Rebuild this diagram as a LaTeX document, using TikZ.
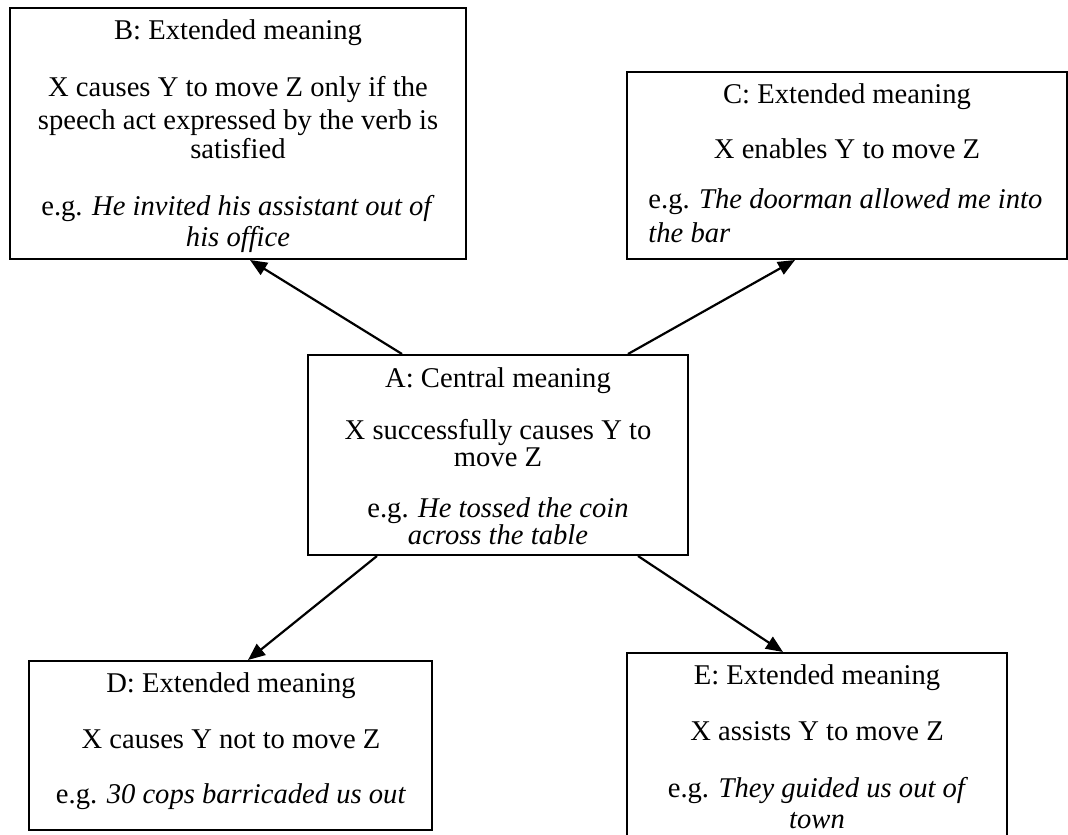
\documentclass[tikz,border=0pt]{standalone}
\usepackage{fontspec}
\setmainfont{Liberation Serif}
\usetikzlibrary{arrows.meta}

\begin{document}
\begin{tikzpicture}[x=0.5pt, y=-0.5pt,
  box/.style={draw, rectangle, line width=1pt, inner sep=0pt},
  txt/.style={anchor=base, inner sep=0pt, font=\fontsize{14.3}{16}\selectfont},
  txtl/.style={txt, anchor=base west},
  arr/.style={-{Triangle[length=8.5pt,width=7pt]}, line width=1.1pt},
]
\useasboundingbox (0,0) rectangle (1068,834);
\clip (0,0) rectangle (1068,834);

% boxes
\node[box, minimum width=228pt, minimum height=125.5pt] (B) at (238,133.5) {};
\node[box, minimum width=220pt, minimum height=93.5pt]  (C) at (847,165.5) {};
\node[box, minimum width=190pt, minimum height=100pt]   (A) at (498,455) {};
\node[box, minimum width=201.5pt, minimum height=84.5pt] (D) at (230.5,745.5) {};
\node[box, minimum width=190pt, minimum height=108.5pt] (E) at (817,761.5) {};

% B
\node[txt] (Bt) at (238,39.3) {B: Extended meaning};
\node[txt] (B1) at (238,96.7) {X causes Y to move Z only if the};
\node[txt] (B2) at (238,129.3) {speech act expressed by the verb is};
\node[txt] (B3) at (238,158.3) {satisfied};
\node[txt] (B4) at (238,215) {e.g. \textit{He invited his assistant out of}};
\node[txt] (B5) at (238,246.7) {\textit{his office}};

% C
\node[txt] (Ct) at (847,103.3) {C: Extended meaning};
\node[txt] (C1) at (847,158.3) {X enables Y to move Z};
\node[txtl] (C2) at (648,208.3) {e.g. \textit{The doorman allowed me into}};
\node[txtl] (C3) at (648,242.7) {\textit{the bar}};

% A
\node[txt] (At) at (498,387.7) {A: Central meaning};
\node[txt] (A1) at (498,439.3) {X successfully causes Y to};
\node[txt] (A2) at (498,466) {move Z};
\node[txt] (A3) at (498,517.7) {e.g. \textit{He tossed the coin}};
\node[txt] (A4) at (498,544) {\textit{across the table}};

% D
\node[txt] (Dt) at (231,692.7) {D: Extended meaning};
\node[txt] (D1) at (231,748.3) {X causes Y not to move Z};
\node[txt] (D2) at (231,803.3) {e.g. \textit{30 cops barricaded us out}};

% E
\node[txt] (Et) at (817,684) {E: Extended meaning};
\node[txt] (E1) at (817,740) {X assists Y to move Z};
\node[txt] (E2) at (818,797.3) {e.g. \textit{They guided us out of}};
\node[txt] (E3) at (817,828.3) {\textit{town}};

% connectors
\draw[arr] ([xshift=-48pt]A.north) -- ([xshift=6pt]B.south);
\draw[arr] ([xshift=65pt]A.north) -- ([xshift=-26pt]C.south);
\draw[arr] ([xshift=-60.5pt]A.south) -- ([xshift=8.75pt]D.north);
\draw[arr] ([xshift=70pt]A.south) -- ([xshift=-17pt]E.north);
\end{tikzpicture}
\end{document}
